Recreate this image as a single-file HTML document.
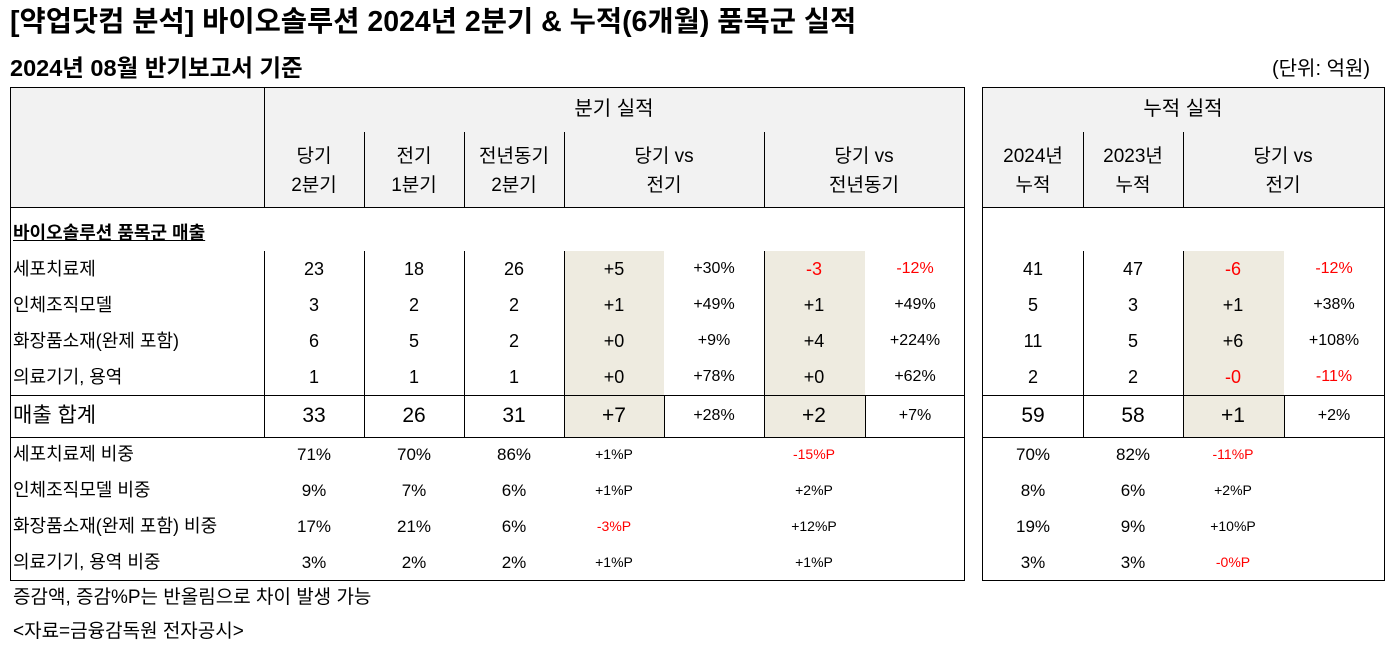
<!DOCTYPE html>
<html><head><meta charset="utf-8"><style>
body{margin:0;width:1397px;height:648px;background:#fff;position:relative;overflow:hidden;font-family:"Liberation Sans","Noto Sans CJK KR",sans-serif;color:#000}
div{position:absolute;white-space:nowrap}
.t{font-size:18px;line-height:22px;text-align:center;width:100px}
.h{font-size:19px;line-height:29px;text-align:center;width:100px}
.s{font-size:17px;line-height:20px;text-align:center;width:100px}
.p{font-size:14px;line-height:20px;text-align:center;width:100px}
.q{font-size:16px;line-height:22px;text-align:center;width:100px}
.l{font-size:18px;line-height:22px;left:13px}
.r{color:#f00}
.hl{height:1px;background:#000}
.vl{width:1px;background:#000}
.sh{background:#eeebe0}
.g{font-size:21px;line-height:26px}
</style></head><body>
<div style="left:10px;top:4px;font-size:28.5px;font-weight:bold;line-height:36px">[약업닷컴 분석] 바이오솔루션 2024년 2분기 &amp; 누적(6개월) 품목군 실적</div>
<div style="left:10px;top:53px;font-size:23.5px;font-weight:bold;line-height:30px">2024년 08월 반기보고서 기준</div>
<div style="left:1272px;top:56px;font-size:20px;line-height:26px">(단위: 억원)</div>

<div style="left:10px;top:87px;width:954px;height:120px;background:#f2f2f2"></div>
<div style="left:982px;top:87px;width:402px;height:120px;background:#f2f2f2"></div>
<div class="sh" style="left:565px;top:251px;width:99px;height:186px"></div>
<div class="sh" style="left:764px;top:251px;width:101px;height:186px"></div>
<div class="sh" style="left:1183px;top:251px;width:101px;height:186px"></div>

<div style="left:10px;top:87px;width:953px;height:492px;border:1px solid #000"></div>
<div style="left:982px;top:87px;width:401px;height:492px;border:1px solid #000"></div>
<div class="hl" style="left:10px;top:207px;width:955px"></div>
<div class="hl" style="left:982px;top:207px;width:403px"></div>
<div class="hl" style="left:10px;top:395px;width:955px"></div>
<div class="hl" style="left:10px;top:437px;width:955px"></div>
<div class="hl" style="left:982px;top:395px;width:403px"></div>
<div class="hl" style="left:982px;top:437px;width:403px"></div>
<div class="vl" style="left:264px;top:87px;height:120px"></div>
<div class="vl" style="left:264px;top:251px;height:186px"></div>
<div class="vl" style="left:364px;top:132px;height:75px"></div>
<div class="vl" style="left:364px;top:251px;height:186px"></div>
<div class="vl" style="left:464px;top:132px;height:75px"></div>
<div class="vl" style="left:464px;top:251px;height:186px"></div>
<div class="vl" style="left:564px;top:132px;height:75px"></div>
<div class="vl" style="left:564px;top:251px;height:186px"></div>
<div class="vl" style="left:664px;top:395px;height:42px"></div>
<div class="vl" style="left:764px;top:132px;height:75px"></div>
<div class="vl" style="left:764px;top:251px;height:186px"></div>
<div class="vl" style="left:865px;top:395px;height:42px"></div>
<div class="vl" style="left:1083px;top:132px;height:75px"></div>
<div class="vl" style="left:1083px;top:251px;height:186px"></div>
<div class="vl" style="left:1183px;top:132px;height:75px"></div>
<div class="vl" style="left:1183px;top:251px;height:186px"></div>
<div class="vl" style="left:1284px;top:395px;height:42px"></div>

<div class="h" style="left:514px;top:95px;width:200px;font-size:20px">분기 실적</div>
<div class="h" style="left:1083px;top:95px;width:200px;font-size:20px">누적 실적</div>
<div class="h" style="left:264px;top:142px">당기<br>2분기</div>
<div class="h" style="left:364px;top:142px">전기<br>1분기</div>
<div class="h" style="left:464px;top:142px">전년동기<br>2분기</div>
<div class="h" style="left:564px;top:142px;width:200px">당기 vs<br>전기</div>
<div class="h" style="left:764px;top:142px;width:200px">당기 vs<br>전년동기</div>
<div class="h" style="left:983px;top:142px">2024년<br>누적</div>
<div class="h" style="left:1083px;top:142px">2023년<br>누적</div>
<div class="h" style="left:1183px;top:142px;width:200px">당기 vs<br>전기</div>

<div class="l" style="top:222px;font-weight:bold;text-decoration:underline">바이오솔루션 품목군 매출</div>

<div class="l" style="top:258px">세포치료제</div>
<div class="t" style="left:264px;top:258px">23</div><div class="t" style="left:364px;top:258px">18</div><div class="t" style="left:464px;top:258px">26</div>
<div class="t" style="left:564px;top:258px">+5</div><div class="q" style="left:664px;top:258px">+30%</div>
<div class="t r" style="left:764px;top:258px">-3</div><div class="q r" style="left:865px;top:258px">-12%</div>
<div class="t" style="left:983px;top:258px">41</div><div class="t" style="left:1083px;top:258px">47</div>
<div class="t r" style="left:1183px;top:258px">-6</div><div class="q r" style="left:1284px;top:258px">-12%</div>

<div class="l" style="top:294px">인체조직모델</div>
<div class="t" style="left:264px;top:294px">3</div><div class="t" style="left:364px;top:294px">2</div><div class="t" style="left:464px;top:294px">2</div>
<div class="t" style="left:564px;top:294px">+1</div><div class="q" style="left:664px;top:294px">+49%</div>
<div class="t" style="left:764px;top:294px">+1</div><div class="q" style="left:865px;top:294px">+49%</div>
<div class="t" style="left:983px;top:294px">5</div><div class="t" style="left:1083px;top:294px">3</div>
<div class="t" style="left:1183px;top:294px">+1</div><div class="q" style="left:1284px;top:294px">+38%</div>

<div class="l" style="top:330px">화장품소재(완제 포함)</div>
<div class="t" style="left:264px;top:330px">6</div><div class="t" style="left:364px;top:330px">5</div><div class="t" style="left:464px;top:330px">2</div>
<div class="t" style="left:564px;top:330px">+0</div><div class="q" style="left:664px;top:330px">+9%</div>
<div class="t" style="left:764px;top:330px">+4</div><div class="q" style="left:865px;top:330px">+224%</div>
<div class="t" style="left:983px;top:330px">11</div><div class="t" style="left:1083px;top:330px">5</div>
<div class="t" style="left:1183px;top:330px">+6</div><div class="q" style="left:1284px;top:330px">+108%</div>

<div class="l" style="top:366px">의료기기, 용역</div>
<div class="t" style="left:264px;top:366px">1</div><div class="t" style="left:364px;top:366px">1</div><div class="t" style="left:464px;top:366px">1</div>
<div class="t" style="left:564px;top:366px">+0</div><div class="q" style="left:664px;top:366px">+78%</div>
<div class="t" style="left:764px;top:366px">+0</div><div class="q" style="left:865px;top:366px">+62%</div>
<div class="t" style="left:983px;top:366px">2</div><div class="t" style="left:1083px;top:366px">2</div>
<div class="t r" style="left:1183px;top:366px">-0</div><div class="q r" style="left:1284px;top:366px">-11%</div>

<div class="l g" style="top:403px">매출 합계</div>
<div class="t g" style="left:264px;top:403px">33</div><div class="t g" style="left:364px;top:403px">26</div><div class="t g" style="left:464px;top:403px">31</div>
<div class="t g" style="left:564px;top:403px">+7</div><div class="q" style="left:664px;top:405px">+28%</div>
<div class="t g" style="left:764px;top:403px">+2</div><div class="q" style="left:865px;top:405px">+7%</div>
<div class="t g" style="left:983px;top:403px">59</div><div class="t g" style="left:1083px;top:403px">58</div>
<div class="t g" style="left:1183px;top:403px">+1</div><div class="q" style="left:1284px;top:405px">+2%</div>

<div class="l" style="top:443px">세포치료제 비중</div>
<div class="s" style="left:264px;top:445px">71%</div><div class="s" style="left:364px;top:445px">70%</div><div class="s" style="left:464px;top:445px">86%</div>
<div class="p" style="left:564px;top:444px">+1%P</div><div class="p r" style="left:764px;top:444px">-15%P</div>
<div class="s" style="left:983px;top:445px">70%</div><div class="s" style="left:1083px;top:445px">82%</div><div class="p r" style="left:1183px;top:444px">-11%P</div>

<div class="l" style="top:479px">인체조직모델 비중</div>
<div class="s" style="left:264px;top:481px">9%</div><div class="s" style="left:364px;top:481px">7%</div><div class="s" style="left:464px;top:481px">6%</div>
<div class="p" style="left:564px;top:480px">+1%P</div><div class="p" style="left:764px;top:480px">+2%P</div>
<div class="s" style="left:983px;top:481px">8%</div><div class="s" style="left:1083px;top:481px">6%</div><div class="p" style="left:1183px;top:480px">+2%P</div>

<div class="l" style="top:515px">화장품소재(완제 포함) 비중</div>
<div class="s" style="left:264px;top:517px">17%</div><div class="s" style="left:364px;top:517px">21%</div><div class="s" style="left:464px;top:517px">6%</div>
<div class="p r" style="left:564px;top:516px">-3%P</div><div class="p" style="left:764px;top:516px">+12%P</div>
<div class="s" style="left:983px;top:517px">19%</div><div class="s" style="left:1083px;top:517px">9%</div><div class="p" style="left:1183px;top:516px">+10%P</div>

<div class="l" style="top:551px">의료기기, 용역 비중</div>
<div class="s" style="left:264px;top:553px">3%</div><div class="s" style="left:364px;top:553px">2%</div><div class="s" style="left:464px;top:553px">2%</div>
<div class="p" style="left:564px;top:552px">+1%P</div><div class="p" style="left:764px;top:552px">+1%P</div>
<div class="s" style="left:983px;top:553px">3%</div><div class="s" style="left:1083px;top:553px">3%</div><div class="p r" style="left:1183px;top:552px">-0%P</div>

<div style="left:13px;top:587px;font-size:19px;line-height:22px">증감액, 증감%P는 반올림으로 차이 발생 가능</div>
<div style="left:13px;top:621px;font-size:19px;line-height:22px">&lt;자료=금융감독원 전자공시&gt;</div>
</body></html>
